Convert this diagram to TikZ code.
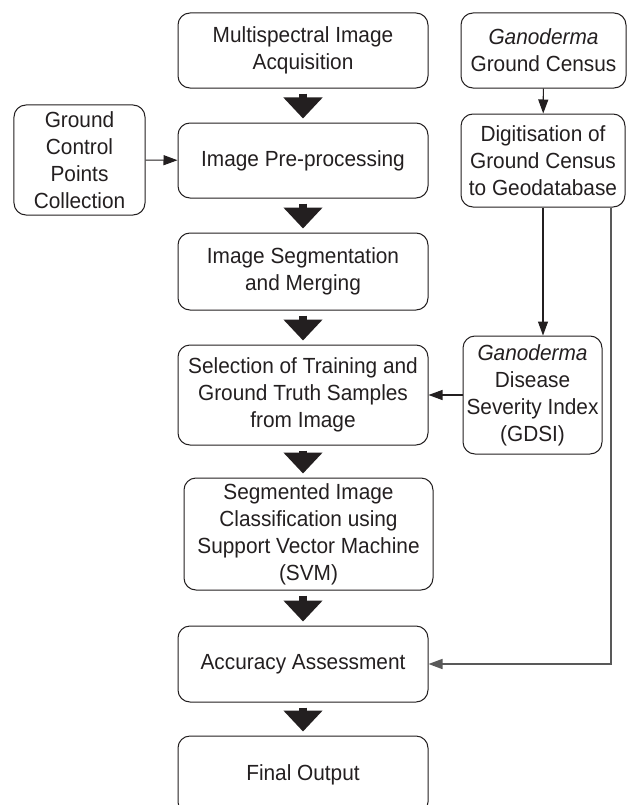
\documentclass[tikz,border=0pt]{standalone}
\usepackage{fontspec}
\setmainfont{Liberation Sans}[FakeStretch=0.95]
\usetikzlibrary{arrows.meta}
\definecolor{ink}{HTML}{231F20}
\begin{document}
\begin{tikzpicture}[x=1bp,y=-1bp,
  box/.style={draw=ink, line width=1bp, rounded corners=12bp, align=center,
    inner sep=0pt, text=ink, font=\fontsize{22}{27}\selectfont},
  fatarrow/.style={draw=ink, line width=8bp,
    -{Triangle[width=38bp,length=21bp]}, shorten <=5bp, shorten >=4bp},
  thinarrow/.style={draw=ink, line width=1.1bp,
    -{Triangle[width=10bp,length=14bp]}},
  feedline/.style={draw=black!65, line width=1.6bp,
    -{Triangle[width=10bp,length=14bp]}}]
\clip (0,0) rectangle (627,805);
\fill[white] (0,0) rectangle (627,805);

\node[box, minimum width=250bp, minimum height=75bp] (acq) at (303,50.5)
  {Multispectral Image\\Acquisition};
\node[box, minimum width=165bp, minimum height=75bp] (gan) at (543.5,50.5)
  {\textit{Ganoderma}\\Ground Census};
\node[box, minimum width=131bp, minimum height=110bp] (gcp) at (79.5,160)
  {Ground\\Control\\Points\\Collection};
\node[box, minimum width=250bp, minimum height=75bp] (pre) at (303,160.5)
  {Image Pre-processing};
\node[box, minimum width=164bp, minimum height=93bp] (dig) at (543,160.5)
  {Digitisation of\\Ground Census\\to Geodatabase};
\node[box, minimum width=250bp, minimum height=77bp] (seg) at (303,271.5)
  {Image Segmentation\\and Merging};
\node[box, minimum width=250bp, minimum height=100bp] (sel) at (303,395)
  {Selection of Training and\\Ground Truth Samples\\from Image};
\node[box, minimum width=139bp, minimum height=118bp] (gdsi) at (532.5,395)
  {\textit{Ganoderma}\\Disease\\Severity Index\\(GDSI)};
\node[box, minimum width=249bp, minimum height=112bp] (svm) at (308.5,534)
  {Segmented Image\\Classification using\\Support Vector Machine\\(SVM)};
\node[box, minimum width=250bp, minimum height=76bp] (acc) at (303,664)
  {Accuracy Assessment};
\node[box, minimum width=250bp, minimum height=78bp] (fin) at (303,775)
  {Final Output};

\draw[fatarrow] (acq) -- (pre);
\draw[fatarrow] (pre) -- (seg);
\draw[fatarrow] (seg) -- (sel);
\draw[fatarrow] (sel.south) -- (sel.south |- svm.north);
\draw[fatarrow] (acc.north |- svm.south) -- (acc.north);
\draw[fatarrow] (acc) -- (fin);

\draw[thinarrow] (gcp) -- (pre);
\draw[thinarrow] (gan) -- (dig);
\draw[thinarrow] (dig.south) -- (dig.south |- gdsi.north);
\draw[thinarrow] (gdsi) -- (sel);
\coordinate (rt) at ([xshift=68bp]dig.south);
\draw[feedline] (rt) |- (acc.east);
\end{tikzpicture}
\end{document}
